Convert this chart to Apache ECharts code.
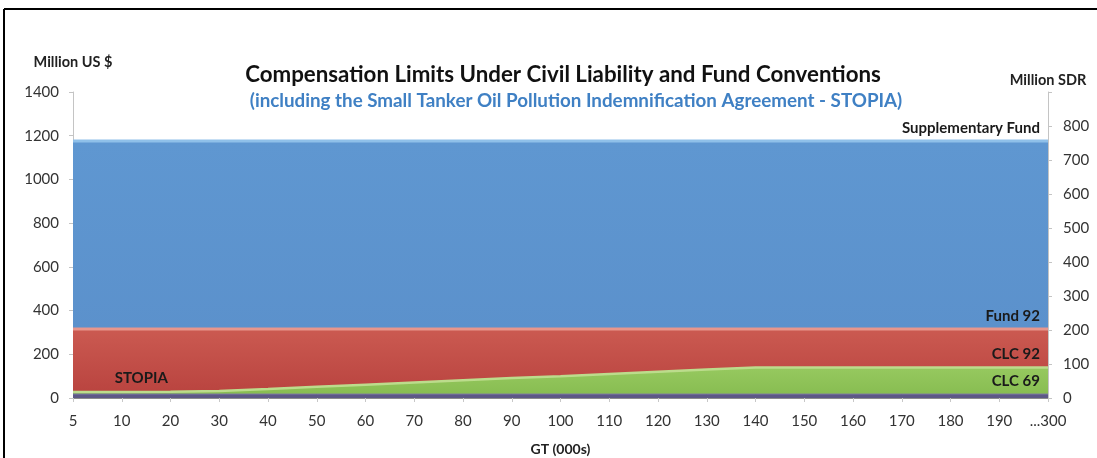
<!DOCTYPE html>
<html>
<head>
<meta charset="utf-8">
<style>
  html, body { margin: 0; padding: 0; background: #ffffff; }
  #chart { width: 1097px; height: 458px; }
</style>
<script src="https://cdn.jsdelivr.net/npm/echarts@6/dist/echarts.min.js"></script>
</head>
<body>
<div id="chart"></div>
<script>
// Ship size categories, GT (thousands)
const categories = ['5','10','20','30','40','50','60','70','80','90','100','110','120','130','140','150','160','170','180','190','...300'];

// Compensation limits, million US $
const supplementaryFund = [1176,1176,1176,1176,1176,1176,1176,1176,1176,1176,1176,1176,1176,1176,1176,1176,1176,1176,1176,1176,1176];
const fund92            = [316,316,316,316,316,316,316,316,316,316,316,316,316,316,316,316,316,316,316,316,316];
const stopia            = [32,32,32,32,null,null,null,null,null,null,null,null,null,null,null,null,null,null,null,null,null];
const clc92             = [27,28,29,32,41,51,61,71,81,91,100,110,120,130,140,140,140,140,140,140,140];
const clc69             = [18,18,18,18,18,18,18,18,18,18,18,18,18,18,18,18,18,18,18,18,18];

// Tick values for the two vertical scales
const usdTicks = { min: 0, max: 1400, interval: 200 };
const sdrTicks = { min: 0, max: 900, interval: 100 };

const FONT = 'Lato';
const labelStyle = { fontFamily: FONT, fontWeight: 'bold', fontSize: 15, color: '#1a1a1a' };

// attach a text label to one point of a series
function withLabel(values, index, text, align, offset) {
  return values.map((v, i) => i === index ? {
    value: v,
    label: Object.assign({ show: true, position: 'top', distance: 5, align: align, offset: offset, formatter: text }, labelStyle)
  } : v);
}

function band(name, data, fill, rim, extra) {
  return Object.assign({
    name: name,
    type: 'line',
    data: data,
    symbol: 'circle',
    symbolSize: 1,
    showSymbol: true,
    showAllSymbol: true,
    itemStyle: { color: 'rgba(0,0,0,0)', borderWidth: 0 },
    label: { show: false },
    lineStyle: { color: rim, width: 3 },
    areaStyle: { color: fill, opacity: 1 },
    emphasis: { disabled: true },
    silent: true
  }, extra || {});
}

const last = categories.length - 1;

const chart = echarts.init(document.getElementById('chart'), null, { renderer: 'canvas' });
chart.setOption({
  backgroundColor: '#ffffff',
  animation: false,
  title: [
    {
      text: 'Compensation Limits Under Civil Liability and Fund Conventions',
      left: 558, top: 59, textAlign: 'center',
      textStyle: { fontFamily: FONT, fontWeight: 'bold', fontSize: 22.3, color: '#111111' }
    },
    {
      text: '(including the Small Tanker Oil Pollution Indemnification Agreement - STOPIA)',
      left: 571, top: 86, textAlign: 'center',
      textStyle: { fontFamily: FONT, fontWeight: 'bold', fontSize: 18.8, color: '#3f80c4' }
    }
  ],
  grid: { left: 73, right: 49, top: 92, bottom: 60, containLabel: false, outerBoundsMode: 'none' },
  xAxis: {
    type: 'category',
    data: categories,
    boundaryGap: false,
    name: 'GT (000s)',
    nameLocation: 'middle',
    nameGap: 44,
    nameTextStyle: { fontFamily: FONT, fontWeight: 'bold', fontSize: 14, color: '#222222' },
    axisLine: { show: true, lineStyle: { color: '#8c8c8c', width: 1 } },
    axisTick: { show: true, length: 4, lineStyle: { color: '#c8c8c8' } },
    axisLabel: { margin: 16, fontFamily: FONT, fontSize: 15, color: '#333333', interval: 0 },
    splitLine: { show: false }
  },
  yAxis: [
    {
      type: 'value',
      min: usdTicks.min, max: usdTicks.max, interval: usdTicks.interval,
      name: 'Million US $',
      nameLocation: 'end',
      nameGap: 22,
      nameTextStyle: { fontFamily: FONT, fontWeight: 'bold', fontSize: 14.5, color: '#222222', align: 'center' },
      axisLine: { show: true, lineStyle: { color: '#c4c4c4' } },
      axisTick: { show: true, length: 4, lineStyle: { color: '#c4c4c4' } },
      axisLabel: { margin: 14, fontFamily: FONT, fontSize: 15, color: '#333333', formatter: v => String(v) },
      splitLine: { show: false }
    },
    {
      type: 'value',
      position: 'right',
      min: sdrTicks.min, max: sdrTicks.max, interval: sdrTicks.interval,
      name: 'Million SDR',
      nameLocation: 'end',
      nameGap: 4,
      nameTextStyle: { fontFamily: FONT, fontWeight: 'bold', fontSize: 14.5, color: '#222222', align: 'center' },
      axisLine: { show: true, lineStyle: { color: '#c4c4c4' } },
      axisTick: { show: true, length: 4, lineStyle: { color: '#c4c4c4' } },
      axisLabel: {
        margin: 15, fontFamily: FONT, fontSize: 15, color: '#333333',
        formatter: v => (v === sdrTicks.max ? '' : String(v))
      },
      splitLine: { show: false }
    }
  ],
  series: [
    band('Supplementary Fund', withLabel(supplementaryFund, last, 'Supplementary Fund', 'right', [-8, 0]),
      new echarts.graphic.LinearGradient(0, 0, 0, 1, [{ offset: 0, color: '#5f97d1' }, { offset: 1, color: '#5a8fca' }]),
      '#8fc0e9'),
    band('Fund 92', withLabel(fund92, last, 'Fund 92', 'right', [-8, 0]),
      new echarts.graphic.LinearGradient(0, 0, 0, 1, [{ offset: 0, color: '#cb5a51' }, { offset: 1, color: '#b8423e' }]),
      '#e8968c'),
    band('STOPIA', withLabel(stopia, 1, 'STOPIA', 'left', [-7, 0]),
      '#b8423e', '#b8423e', { lineStyle: { width: 0 } }),
    band('CLC 92', withLabel(clc92, last, 'CLC 92', 'right', [-8, 0]),
      new echarts.graphic.LinearGradient(0, 0, 0, 1, [{ offset: 0, color: '#96c95f' }, { offset: 1, color: '#86bb50' }]),
      '#bcdc8c', { lineStyle: { color: '#bcdc8c', width: 2.5 } }),
    band('CLC 69', withLabel(clc69, last, 'CLC 69', 'right', [-8, 0]),
      '#5d5886', '#7c77a3', { lineStyle: { color: '#7c77a3', width: 1 } })
  ],
  graphic: [
    // frame lines along the top and left edges
    { type: 'line', shape: { x1: 4, y1: 9, x2: 1097, y2: 9 }, style: { stroke: '#000000', lineWidth: 2 }, silent: true },
    { type: 'line', shape: { x1: 4, y1: 9, x2: 4, y2: 458 }, style: { stroke: '#000000', lineWidth: 2 }, silent: true }
  ]
});
</script>
</body>
</html>
